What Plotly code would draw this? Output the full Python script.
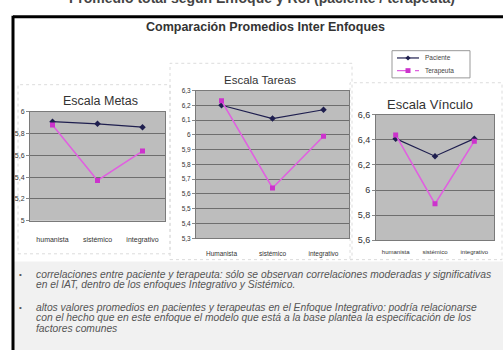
import plotly.graph_objects as go

W, H = 503, 355

# Data: mean scores per therapeutic approach
categorias = ["humanista", "sistémico", "integrativo"]
etiquetas_metas = ["humanista", "sistémico", "integrativo"]
etiquetas_tareas = ["Humanista", "sistémico", "integrativo"]
etiquetas_vinculo = ["humanista", "sistémico", "integrativo"]

metas_paciente = [5.91, 5.89, 5.86]
metas_terapeuta = [5.88, 5.37, 5.64]

tareas_paciente = [6.20, 6.11, 6.17]
tareas_terapeuta = [6.23, 5.64, 5.99]

vinculo_paciente = [6.41, 6.27, 6.41]
vinculo_terapeuta = [6.44, 5.89, 6.39]

series = ["Paciente", "Terapeuta"]
titulo = "Comparación Promedios Inter Enfoques"
cabecera = "Promedio total según Enfoque y Rol (paciente / terapeuta)"
notas = [
    ["correlaciones entre paciente y terapeuta: sólo se observan correlaciones moderadas y significativas",
     "en el IAT, dentro de los enfoques Integrativo y Sistémico."],
    ["altos valores promedios en pacientes y terapeutas en el Enfoque Integrativo: podría relacionarse",
     "con el hecho que en este enfoque el modelo que está a la base plantea la especificación de los",
     "factores comunes"],
]

FONT = "Liberation Sans, Arial, sans-serif"
C_PAC = "#1f1f4f"
C_TER = "#e060e0"
C_TER_MK = "#cc33cc"


def px_x(x):
    return x / W


def px_y(y):
    return 1 - y / H


fig = go.Figure()

paneles = [
    ("", metas_paciente, metas_terapeuta),
    ("2", tareas_paciente, tareas_terapeuta),
    ("3", vinculo_paciente, vinculo_terapeuta),
]
for sfx, pac, ter in paneles:
    fig.add_trace(go.Scatter(
        x=categorias, y=pac, name=series[0], mode="lines+markers",
        line=dict(color=C_PAC, width=1.2),
        marker=dict(symbol="diamond", size=5, color=C_PAC),
        xaxis="x" + sfx, yaxis="y" + sfx, showlegend=False))
    fig.add_trace(go.Scatter(
        x=categorias, y=ter, name=series[1], mode="lines+markers",
        line=dict(color=C_TER, width=1.6),
        marker=dict(symbol="square", size=5, color=C_TER_MK),
        xaxis="x" + sfx, yaxis="y" + sfx, showlegend=False))

# plot area boxes (left, right, top, bottom in px)
areas = {
    "": (30, 165, 110, 222),
    "2": (196, 349, 88, 240),
    "3": (376, 494, 113, 242),
}
yrangos = {"": ([5, 6], 0.2, 7), "2": ([5.3, 6.3], 0.1, 6.5), "3": ([5.6, 6.6], 0.2, 9)}
xfont = {"": (7, etiquetas_metas, 12), "2": (6.5, etiquetas_tareas, 9), "3": (6, etiquetas_vinculo, 6)}

layout_axes = {}
for sfx, (l, r, t, b) in areas.items():
    rng, dt, yfs = yrangos[sfx]
    xfs, labels, standoff = xfont[sfx]
    layout_axes["xaxis" + sfx] = dict(
        domain=[px_x(l), px_x(r)], anchor="y" + sfx, type="category",
        range=[-0.5, 2.5], showgrid=False, zeroline=False,
        tickvals=categorias, ticktext=labels, ticklabelstandoff=standoff,
        tickfont=dict(size=xfs, color="#333", family=FONT),
        showline=True, linecolor="#7a7a7a", linewidth=1, mirror=True,
        ticks="", fixedrange=True)
    layout_axes["yaxis" + sfx] = dict(
        domain=[px_y(b), px_y(t)], anchor="x" + sfx,
        range=rng, dtick=dt, showgrid=True, gridcolor="#6e6e6e", gridwidth=1,
        zeroline=False, showline=True, linecolor="#7a7a7a", mirror=True,
        ticks="outside", ticklen=3, tickcolor="#888",
        tickfont=dict(size=yfs, color="#333", family=FONT), fixedrange=True)

shapes = []
# chart panels (white, faint dotted border)
for (x0, y0, x1, y1) in [(18, 82, 170, 256), (170, 60, 352, 262), (350, 80, 502, 262)]:
    shapes.append(dict(type="rect", xref="paper", yref="paper",
                       x0=px_x(x0), x1=px_x(x1), y0=px_y(y1), y1=px_y(y0),
                       line=dict(color="#dcdcdc", width=1, dash="dot"),
                       fillcolor="rgba(0,0,0,0)", layer="below"))
# light band behind the notes
shapes.append(dict(type="rect", xref="paper", yref="paper",
                   x0=px_x(14), x1=1, y0=0, y1=px_y(264),
                   line=dict(width=0), fillcolor="#f1f1f1", layer="below"))
# slide frame
shapes.append(dict(type="line", xref="paper", yref="paper",
                   x0=px_x(13), x1=1, y0=px_y(12), y1=px_y(12),
                   line=dict(color="black", width=3)))
shapes.append(dict(type="line", xref="paper", yref="paper",
                   x0=px_x(13), x1=px_x(13), y0=0, y1=px_y(11),
                   line=dict(color="black", width=3)))

# legend box with line/marker samples
LX0, LY0, LX1, LY1 = 392, 47, 470, 75
shapes.append(dict(type="rect", xref="paper", yref="paper",
                   x0=px_x(LX0), x1=px_x(LX1), y0=px_y(LY1), y1=px_y(LY0),
                   line=dict(color="#999", width=1), fillcolor="white"))
leg_y = [54.5, 67.5]
shapes.append(dict(type="line", xref="paper", yref="paper",
                   x0=px_x(397), x1=px_x(419), y0=px_y(leg_y[0]), y1=px_y(leg_y[0]),
                   line=dict(color=C_PAC, width=1.2)))
cx, cy, d = 408, leg_y[0], 2.6
shapes.append(dict(type="path", xref="paper", yref="paper",
                   path=f"M {px_x(cx - d)} {px_y(cy)} L {px_x(cx)} {px_y(cy - d)} "
                        f"L {px_x(cx + d)} {px_y(cy)} L {px_x(cx)} {px_y(cy + d)} Z",
                   line=dict(width=0), fillcolor=C_PAC))
shapes.append(dict(type="line", xref="paper", yref="paper",
                   x0=px_x(397), x1=px_x(419), y0=px_y(leg_y[1]), y1=px_y(leg_y[1]),
                   line=dict(color=C_TER, width=1.4, dash="dash")))
cx, cy, d = 408, leg_y[1], 2.5
shapes.append(dict(type="rect", xref="paper", yref="paper",
                   x0=px_x(cx - d), x1=px_x(cx + d), y0=px_y(cy + d), y1=px_y(cy - d),
                   line=dict(width=0), fillcolor=C_TER_MK))

annotations = [
    dict(text="<b>" + cabecera + "</b>", x=px_x(262), y=px_y(3), xref="paper", yref="paper",
         showarrow=False, xanchor="center", yanchor="bottom",
         font=dict(size=14, color="#444", family=FONT)),
    dict(text="<b>" + titulo + "</b>", x=px_x(265), y=px_y(23), xref="paper", yref="paper",
         showarrow=False, xanchor="center", yanchor="middle",
         font=dict(size=12.5, color="#333", family=FONT)),
    dict(text="Escala Metas", x=px_x(100), y=px_y(99), xref="paper", yref="paper",
         showarrow=False, xanchor="center", yanchor="middle",
         font=dict(size=12.5, color="#333", family=FONT)),
    dict(text="Escala Tareas", x=px_x(260), y=px_y(77), xref="paper", yref="paper",
         showarrow=False, xanchor="center", yanchor="middle",
         font=dict(size=11.5, color="#333", family=FONT)),
    dict(text="Escala Vínculo", x=px_x(430), y=px_y(102), xref="paper", yref="paper",
         showarrow=False, xanchor="center", yanchor="middle",
         font=dict(size=13, color="#333", family=FONT)),
]
for nombre, y in zip(series, leg_y):
    annotations.append(dict(text=nombre, x=px_x(423), y=px_y(y), xref="paper", yref="paper",
                            showarrow=False, xanchor="left", yanchor="middle",
                            font=dict(size=6.5, color="#444", family=FONT)))

# bullet notes
line_y = [[277, 288], [311, 322, 333]]
for bloque, ys in zip(notas, line_y):
    annotations.append(dict(text="•", x=px_x(20), y=px_y(ys[0]), xref="paper", yref="paper",
                            showarrow=False, xanchor="center", yanchor="middle",
                            font=dict(size=8, color="#555", family=FONT)))
    for linea, y in zip(bloque, ys):
        annotations.append(dict(text="<i>" + linea + "</i>", x=px_x(34), y=px_y(y),
                                xref="paper", yref="paper", showarrow=False,
                                xanchor="left", yanchor="middle", align="left",
                                font=dict(size=10.3, color="#555", family=FONT)))

fig.update_layout(
    width=W, height=H, margin=dict(l=0, r=0, t=0, b=0),
    paper_bgcolor="white", plot_bgcolor="#bdbdbd",
    separators=", ",
    showlegend=False,
    shapes=shapes, annotations=annotations,
    **layout_axes,
)

fig.write_html("out.html", config={"displayModeBar": False})
